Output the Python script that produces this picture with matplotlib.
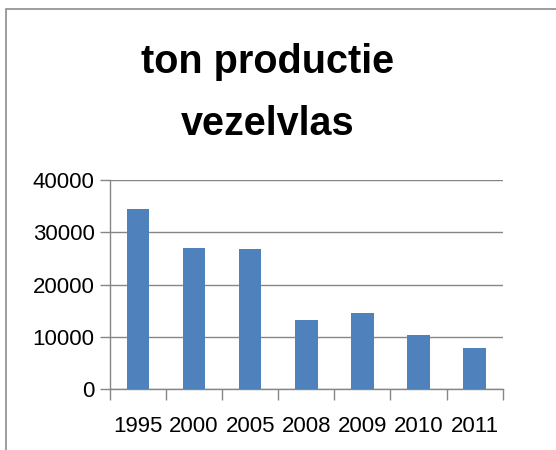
import matplotlib.pyplot as plt
from matplotlib.patches import Rectangle
from matplotlib.ticker import FixedLocator

# --- data ---
jaren = ['1995', '2000', '2005', '2008', '2009', '2010', '2011']
ton = [34400, 26950, 26800, 13250, 14550, 10450, 7950]
y_ticks = [0, 10000, 20000, 30000, 40000]

plt.rcParams['font.family'] = ['Liberation Sans', 'DejaVu Sans']

fig = plt.figure(figsize=(5.56, 4.5), dpi=100)

# grijze kader rond de grafiek (loopt rechts en onder buiten beeld)
fig.patches.append(Rectangle((6 / 556, -0.1), 1.2, 1 - 9 / 450 + 0.1,
                             transform=fig.transFigure, fill=False,
                             edgecolor='#8c8c8c', linewidth=1.2))

ax = fig.add_axes([0.1978, 0.1349, 0.7062, 0.4651])

x = range(len(jaren))
ax.bar(x, ton, width=0.4, color='#4F81BD', zorder=3)

ax.set_xlim(-0.5, len(jaren) - 0.5)
ax.set_ylim(0, 40000)
ax.set_yticks(y_ticks)
ax.set_yticklabels([str(v) for v in y_ticks], fontsize=16)

ax.set_xticks(list(x))
ax.set_xticklabels(jaren, fontsize=16)
ax.tick_params(axis='x', which='major', length=0, pad=19)
ax.xaxis.set_minor_locator(FixedLocator([i - 0.5 for i in range(len(jaren) + 1)]))
ax.tick_params(axis='x', which='minor', length=8, width=1, color='#868686')
ax.tick_params(axis='y', length=7, width=1, color='#868686', pad=4)

ax.grid(axis='y', color='#868686', linewidth=1, zorder=0)
for s in ['top', 'right']:
    ax.spines[s].set_visible(False)
for s in ['left', 'bottom']:
    ax.spines[s].set_color('#868686')
    ax.spines[s].set_linewidth(1)

fig.text(0.481, 0.905, 'ton productie\nvezelvlas', ha='center', va='top',
         fontsize=28.5, fontweight='bold', linespacing=1.8)

fig.savefig('out.png', dpi=100)
